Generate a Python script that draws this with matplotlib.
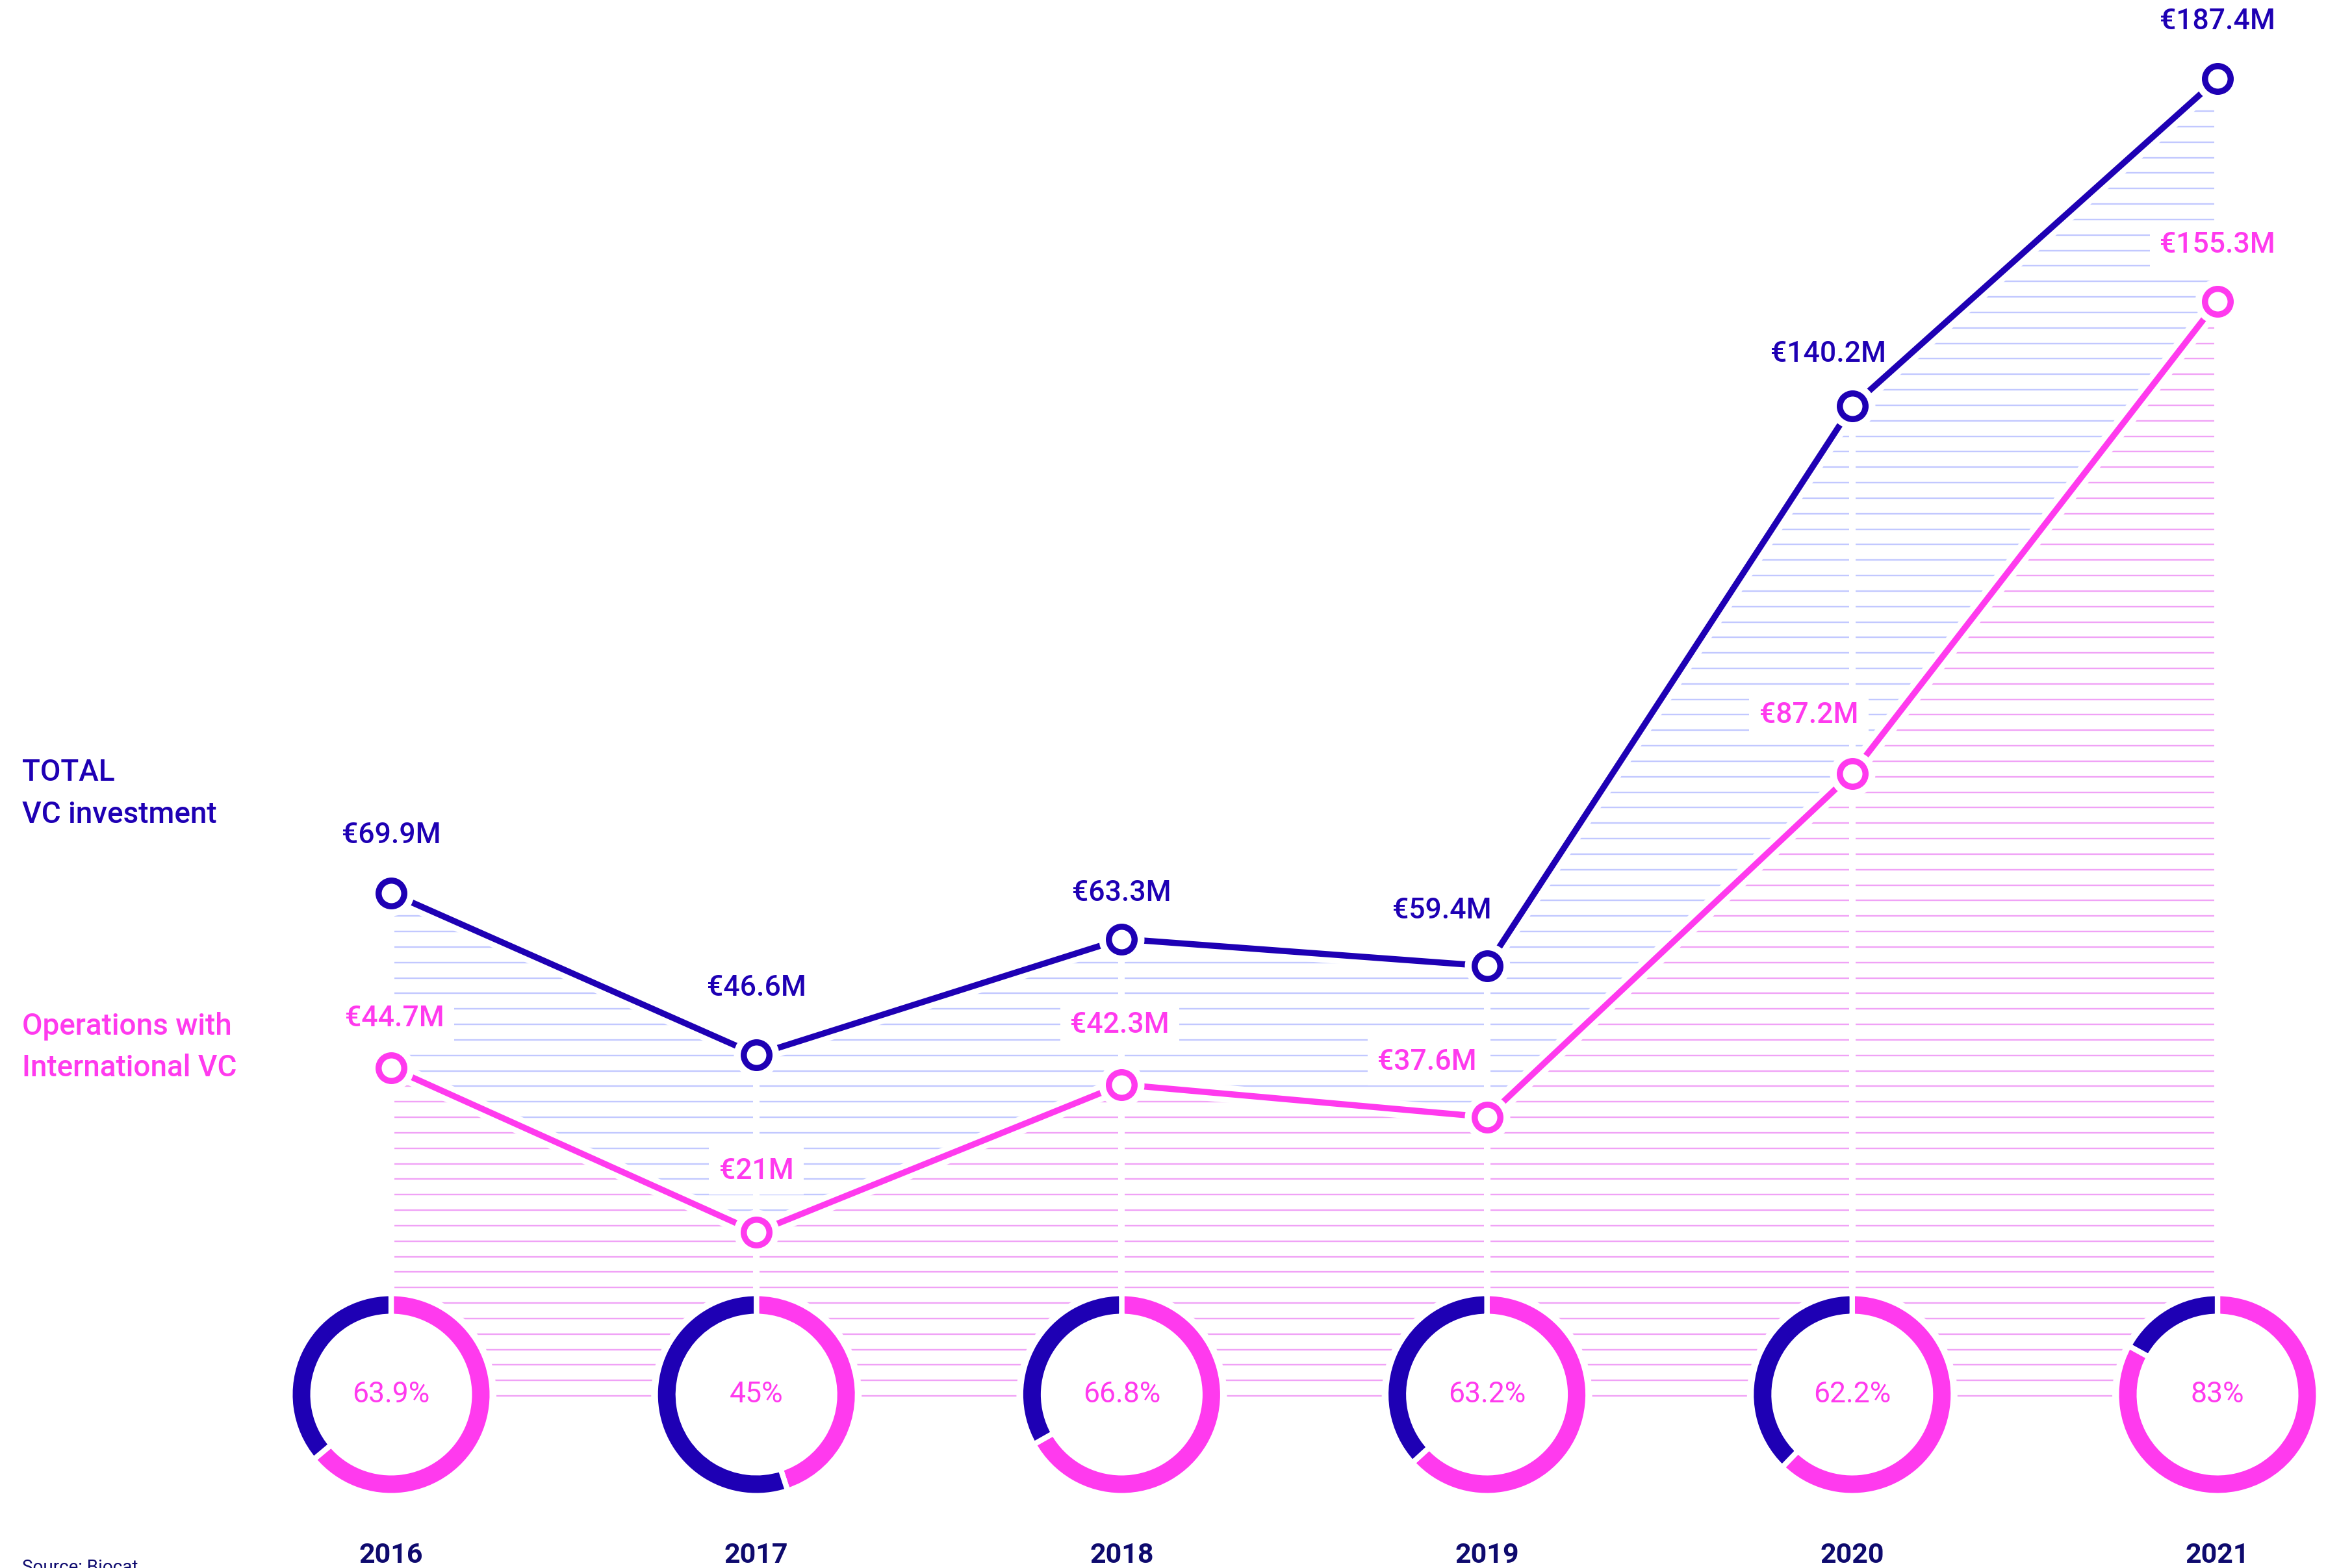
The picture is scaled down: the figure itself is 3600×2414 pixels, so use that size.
import numpy as np
import matplotlib
matplotlib.use("Agg")
import matplotlib.pyplot as plt
from matplotlib.patches import Circle

# ---- data -------------------------------------------------------------
years = [2016, 2017, 2018, 2019, 2020, 2021]
total_vc = [69.9, 46.6, 63.3, 59.4, 140.2, 187.4]      # € million
intl_vc = [44.7, 21.0, 42.3, 37.6, 87.2, 155.3]        # € million
intl_share = [63.9, 45.0, 66.8, 63.2, 62.2, 83.0]      # % of total

series_names = ["TOTAL", "VC investment"], ["Operations with", "International VC"]
source_note = "Source: Biocat"

# ---- style -------------------------------------------------------------
BLUE = "#1E00B4"
PINK = "#FF3AEE"
NAVY = "#0E0A6E"
HATCH_BLUE = "#C2C8FF"
HATCH_PINK = "#F0A2F6"
FONT = ["Roboto", "DejaVu Sans"]

W, H, DPI = 3600, 2414, 100
plt.rcParams["font.family"] = FONT

fig = plt.figure(figsize=(W / DPI, H / DPI), dpi=DPI)
fig.patch.set_facecolor("white")
ax = fig.add_axes([0, 0, 1, 1])
ax.set_axis_off()

# pixel layout of the data area
X0_PX, STEP_PX = 602, 562.2          # x of first year, distance between years
ZERO_PX, PX_PER_M = 2121, 10.67      # y (from top) of value 0, pixels per €M
ax.set_xlim(years[0] - X0_PX / STEP_PX, years[0] + (W - X0_PX) / STEP_PX)
ax.set_ylim(-(H - ZERO_PX) / PX_PER_M, ZERO_PX / PX_PER_M)


def y_from_top(py):
    return (ZERO_PX - py) / PX_PER_M


PT = 72 / DPI  # points per pixel

# ---- horizontal line hatching between the series -----------------------
hatch_bottom = y_from_top(2149)
levels = y_from_top(np.arange(2149, 90, -23.83))

band_low = ax.fill_between(years, hatch_bottom - 0.5, intl_vc,
                           facecolor="none", edgecolor="none", zorder=0)
band_high = ax.fill_between(years, intl_vc, total_vc,
                            facecolor="none", edgecolor="none", zorder=0)

for band, col in ((band_low, HATCH_PINK), (band_high, HATCH_BLUE)):
    lc = ax.hlines(levels, years[0], years[-1], colors=col,
                   linewidth=2.4 * PT, zorder=1)
    lc.set_clip_path(band.get_paths()[0], ax.transData)

# white guides at each year
ax.vlines(years, hatch_bottom - 5, total_vc, colors="white",
          linewidth=10 * PT, zorder=2)

# ---- lines with white halo -------------------------------------------------
for vals, col in ((total_vc, BLUE), (intl_vc, PINK)):
    ax.plot(years, vals, color="white", linewidth=27 * PT,
            solid_joinstyle="round", solid_capstyle="butt", zorder=3)
for vals, col in ((total_vc, BLUE), (intl_vc, PINK)):
    ax.plot(years, vals, color=col, linewidth=9.5 * PT,
            solid_joinstyle="round", zorder=4)
    ax.plot(years, vals, linestyle="none", marker="o", markersize=70 * PT,
            markerfacecolor="white", markeredgewidth=0, zorder=5)
    ax.plot(years, vals, linestyle="none", marker="o",
            markersize=39.5 * PT, markerfacecolor="white",
            markeredgecolor=col, markeredgewidth=9.5 * PT, zorder=6)

# ---- value labels ------------------------------------------------------
total_offsets = [(0, 89), (0, 103), (0, 71), (-69, 85), (-37, 80), (0, 88)]
intl_offsets = [(5, 76), (0, 94), (-3, 92), (-92, 85), (-67, 90), (0, 87)]

for vals, offs, col in ((total_vc, total_offsets, BLUE),
                        (intl_vc, intl_offsets, PINK)):
    for yr, v, (dx, dy) in zip(years, vals, offs):
        ax.annotate(f"€{v:g}M", (yr, v), xytext=(dx * PT, dy * PT),
                    textcoords="offset points", ha="center", va="center",
                    fontsize=32, fontweight="medium", color=col, zorder=3.5,
                    bbox=dict(boxstyle="square,pad=0.35", facecolor="white",
                              edgecolor="none"))

# ---- series names ------------------------------------------------------
for lines, col, ys in ((series_names[0], BLUE, (1189, 1254)),
                       (series_names[1], PINK, (1580, 1644))):
    for txt, py in zip(lines, ys):
        fig.text(34 / W, 1 - py / H, txt, ha="left", va="center",
                 fontsize=33, fontweight="medium", color=col)

# ---- share donuts and year labels ------------------------------------------
DONUT_CY = 2147
R_BOX, R_HALO, R_OUT, RING = 175, 162, 151.5, 27
EDGE_PX = 8.3
for yr, share in zip(years, intl_share):
    cx = ax.transData.transform((yr, 0))[0]
    dax = fig.add_axes([(cx - R_BOX) / W, (H - DONUT_CY - R_BOX) / H,
                        2 * R_BOX / W, 2 * R_BOX / H])
    dax.add_patch(Circle((0, 0), R_HALO, facecolor="white",
                         edgecolor="none", zorder=0))
    dax.pie([share, 100 - share], colors=[PINK, BLUE], startangle=90,
            counterclock=False, radius=R_OUT + EDGE_PX / 2,
            wedgeprops=dict(width=RING + EDGE_PX, edgecolor="white",
                            linewidth=EDGE_PX * PT))
    dax.set_xlim(-R_BOX, R_BOX)
    dax.set_ylim(-R_BOX, R_BOX)
    dax.set_aspect("equal")
    dax.set_axis_off()
    dax.text(0, 0, f"{share:g}%", ha="center", va="center", fontsize=32,
             color=PINK)
    fig.text(cx / W, 1 - 2394 / H, str(yr), ha="center", va="center",
             fontsize=31, fontweight="bold", color=NAVY)

fig.text(34 / W, 1 - 2400 / H, source_note, ha="left", va="top",
         fontsize=20, color=NAVY)

fig.savefig("out.png", dpi=DPI, facecolor="white")
